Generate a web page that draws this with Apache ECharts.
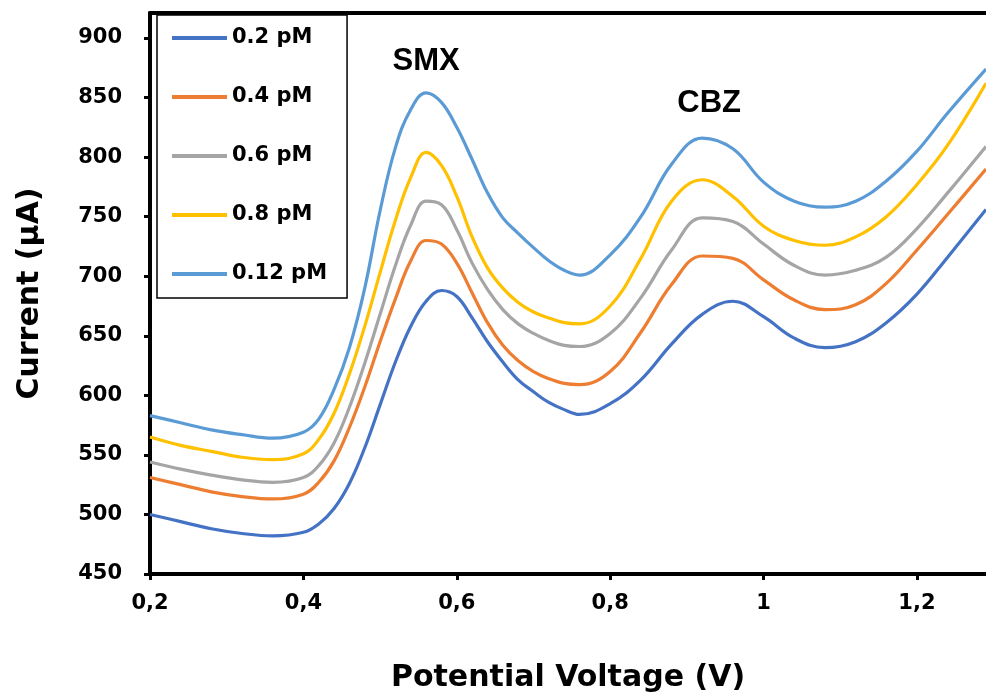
<!DOCTYPE html>
<html><head><meta charset="utf-8">
<script src="https://cdn.jsdelivr.net/npm/echarts@6/dist/echarts.min.js"></script>
<style>html,body{margin:0;padding:0;background:#fff}#chart{width:986px;height:698px}</style>
</head><body><div id="chart"></div>
<script>
const potential = [0.2, 0.24, 0.28, 0.32, 0.36, 0.4, 0.42, 0.44, 0.46, 0.48, 0.5, 0.52, 0.54, 0.56, 0.58, 0.6, 0.62, 0.64, 0.66, 0.68, 0.7, 0.72, 0.74, 0.76, 0.8, 0.84, 0.88, 0.92, 0.96, 1.0, 1.04, 1.08, 1.12, 1.16, 1.2, 1.24, 1.29];
const seriesNames = ['0.2 pM', '0.4 pM', '0.6 pM', '0.8 pM', '0.12 pM'];
const current02 = [500, 494, 488, 484, 482, 485, 492, 505, 526, 556, 592, 628, 658, 679, 688, 683, 665, 645, 628, 613, 603, 594, 588, 584, 593, 613, 643, 668, 679, 666, 648, 640, 645, 661, 685, 716, 756];
const current04 = [531, 525, 519, 515, 513, 517, 527, 545, 573, 607, 645, 681, 713, 730, 727, 711, 686, 661, 642, 629, 620, 614, 610, 609, 620, 653, 693, 717, 715, 697, 680, 672, 676, 694, 722, 752, 790];
const current06 = [544, 538, 533, 529, 527, 531, 541, 560, 590, 627, 668, 709, 743, 763, 760, 739, 711, 689, 672, 660, 652, 646, 642, 641, 652, 682, 722, 749, 746, 727, 709, 701, 705, 716, 740, 770, 809];
const current08 = [565, 558, 553, 548, 546, 551, 563, 585, 618, 658, 703, 747, 783, 804, 793, 767, 733, 707, 690, 678, 670, 665, 661, 660, 675, 715, 763, 781, 767, 742, 730, 726, 733, 750, 777, 810, 862];
const current012 = [583, 577, 571, 567, 564, 569, 580, 605, 640, 690, 755, 808, 840, 854, 846, 825, 798, 770, 749, 736, 724, 713, 705, 701, 718, 750, 794, 816, 807, 779, 763, 758, 763, 780, 805, 837, 874];
const seriesColors = ['#4472C4', '#ED7D31', '#A5A5A5', '#FFC000', '#5B9BD5'];
const yTicks = [450, 500, 550, 600, 650, 700, 750, 800, 850, 900];
const xTicks = [0.2, 0.4, 0.6, 0.8, 1, 1.2];
const annotations = [[0.56, 880, 'SMX'], [0.929, 845, 'CBZ']];

const allCurrents = [current02, current04, current06, current08, current012];
const chart = echarts.init(document.getElementById('chart'));
const axisFont = {fontFamily: 'DejaVu Sans', fontWeight: 'bold', color: '#000'};

const lineSeries = seriesNames.map((name, i) => ({
  name: name,
  type: 'line',
  smooth: 0.4,
  showSymbol: false,
  symbol: 'none',
  color: seriesColors[i],
  lineStyle: {width: 3.2, color: seriesColors[i]},
  data: potential.map((x, j) => [x, allCurrents[i][j]]),
  z: 3 + i
}));

chart.setOption({
  animation: false,
  backgroundColor: '#fff',
  grid: {left: 150, top: 13, bottom: 124, right: 0, show: false},
  legend: {
    data: seriesNames,
    orient: 'vertical',
    left: 157, top: 15,
    padding: [12, 20, 13, 15],
    itemGap: 37, itemWidth: 55, itemHeight: 4,
    icon: 'rect',
    selectedMode: false,
    borderColor: '#000', borderWidth: 1.5,
    backgroundColor: '#fff',
    textStyle: {fontFamily: 'DejaVu Sans', fontWeight: 'bold', fontSize: 21, lineHeight: 22, color: '#000'}
  },
  xAxis: [{
    type: 'value', min: 0.2, max: 1.29, interval: 0.2,
    name: 'Potential Voltage (V)', nameLocation: 'middle', nameGap: 89,
    nameTextStyle: Object.assign({fontSize: 30}, axisFont),
    axisLine: {lineStyle: {color: '#000', width: 4}},
    axisTick: {show: true, length: 6, lineStyle: {color: '#000', width: 3}, customValues: xTicks},
    axisLabel: Object.assign({fontSize: 21, margin: 19, customValues: xTicks,
      formatter: v => xTicks.some(t => Math.abs(t - v) < 1e-6) ? String(+v.toFixed(1)).replace('.', ',') : ''}, axisFont),
    splitLine: {show: false}
  }, {
    type: 'value', position: 'top', min: 0.2, max: 1.29,
    axisLine: {show: true, lineStyle: {color: '#000', width: 4}},
    axisTick: {show: false}, axisLabel: {show: false}, splitLine: {show: false}
  }],
  yAxis: {
    type: 'value', min: 450, max: 921, interval: 50,
    name: 'Current (µA)', nameLocation: 'middle', nameGap: 105,
    nameTextStyle: Object.assign({fontSize: 30}, axisFont),
    axisLine: {show: true, lineStyle: {color: '#000', width: 4}},
    axisTick: {show: true, length: 6, lineStyle: {color: '#000', width: 3}, customValues: yTicks},
    axisLabel: Object.assign({fontSize: 21, margin: 28, customValues: yTicks,
      formatter: v => yTicks.indexOf(Math.round(v)) >= 0 && Math.abs(v - Math.round(v)) < 1e-6 ? String(v) : ''}, axisFont),
    splitLine: {show: false}
  },
  series: lineSeries
});

// peak annotations placed through the chart's own scales
chart.setOption({
  graphic: annotations.map(a => {
    const p = chart.convertToPixel({xAxisIndex: 0, yAxisIndex: 0}, [a[0], a[1]]);
    return {
      type: 'text', x: p[0], y: p[1], z: 100,
      style: {text: a[2], fill: '#000', font: 'bold 31px "Liberation Sans", Arial, sans-serif', align: 'center', verticalAlign: 'middle'}
    };
  })
});
</script>
</body></html>
